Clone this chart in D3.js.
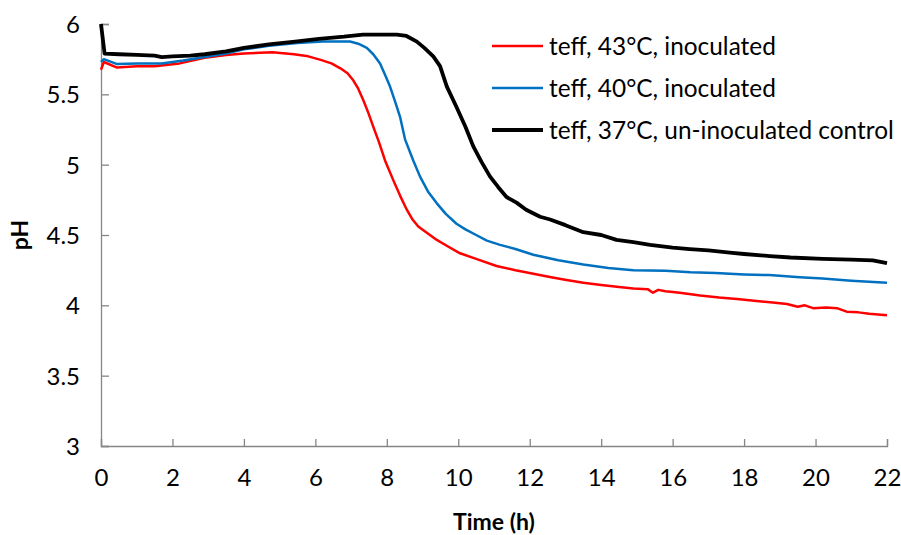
<!DOCTYPE html>
<html>
<head>
<meta charset="utf-8">
<script src="https://cdn.jsdelivr.net/npm/d3@7"></script>
<style>
  body { margin: 0; background: #fff; }
  svg { display: block; font-family: Lato, "Open Sans", sans-serif; }
</style>
</head>
<body>
<script>
// data
const seriesNames = ["teff, 43°C, inoculated", "teff, 40°C, inoculated", "teff, 37°C, un-inoculated control"];

const timeRed = [0, 0.08, 0.45, 1.0, 1.5, 2.2, 2.9, 3.5, 4.0, 4.8, 5.4, 5.8, 6.15, 6.45, 6.7, 6.9, 7.06, 7.2, 7.34, 7.48, 7.62, 7.78, 7.95, 8.18, 8.37, 8.56, 8.72, 8.88, 9.1, 9.4, 9.7, 10.05, 10.5, 11.07, 11.6, 12.1, 12.6, 13.03, 13.5, 14.0, 14.5, 14.9, 15.3, 15.45, 15.6, 15.8, 16.2, 16.77, 17.3, 17.8, 18.35, 18.8, 19.2, 19.5, 19.7, 19.93, 20.3, 20.6, 20.87, 21.2, 21.5, 22];
const phRed = [5.675, 5.73, 5.69, 5.70, 5.70, 5.72, 5.76, 5.78, 5.79, 5.80, 5.785, 5.77, 5.745, 5.72, 5.685, 5.65, 5.60, 5.54, 5.46, 5.37, 5.27, 5.16, 5.03, 4.89, 4.78, 4.68, 4.61, 4.56, 4.52, 4.465, 4.42, 4.37, 4.33, 4.28, 4.25, 4.225, 4.20, 4.18, 4.16, 4.145, 4.13, 4.12, 4.115, 4.09, 4.11, 4.10, 4.09, 4.07, 4.055, 4.045, 4.03, 4.02, 4.01, 3.99, 4.00, 3.98, 3.985, 3.98, 3.955, 3.95, 3.94, 3.93];

const timeBlue = [0, 0.08, 0.45, 1.0, 1.7, 2.3, 2.9, 3.5, 4.0, 4.7, 5.5, 6.2, 6.97, 7.2, 7.44, 7.62, 7.81, 7.95, 8.09, 8.23, 8.37, 8.51, 8.74, 8.93, 9.15, 9.4, 9.65, 9.95, 10.2, 10.5, 10.8, 11.17, 11.6, 12.1, 12.8, 13.5, 14.2, 14.9, 15.8, 16.5, 17.2, 18.0, 18.7, 19.56, 20.2, 21.0, 22];
const phBlue = [5.73, 5.75, 5.715, 5.72, 5.72, 5.74, 5.765, 5.79, 5.82, 5.845, 5.865, 5.875, 5.875, 5.86, 5.83, 5.785, 5.72, 5.64, 5.555, 5.45, 5.34, 5.18, 5.03, 4.915, 4.81, 4.725, 4.65, 4.58, 4.54, 4.50, 4.46, 4.43, 4.40, 4.36, 4.32, 4.29, 4.265, 4.25, 4.245, 4.235, 4.23, 4.22, 4.215, 4.20, 4.19, 4.175, 4.16];

const timeBlack = [0, 0.1, 0.5, 1.0, 1.5, 1.7, 2.0, 2.5, 2.9, 3.5, 4.0, 4.7, 5.43, 6.1, 6.8, 7.33, 7.8, 8.28, 8.55, 8.84, 9.05, 9.3, 9.49, 9.68, 9.95, 10.2, 10.42, 10.65, 10.89, 11.12, 11.35, 11.63, 11.9, 12.29, 12.57, 13.0, 13.5, 14.0, 14.43, 14.9, 15.37, 16.0, 16.48, 17.0, 17.6, 18.0, 18.72, 19.3, 20.2, 21.0, 21.6, 22];
const phBlack = [6.0, 5.79, 5.785, 5.78, 5.775, 5.765, 5.77, 5.775, 5.785, 5.805, 5.83, 5.855, 5.875, 5.895, 5.91, 5.925, 5.925, 5.925, 5.915, 5.875, 5.83, 5.77, 5.70, 5.555, 5.41, 5.27, 5.13, 5.02, 4.915, 4.84, 4.77, 4.73, 4.68, 4.63, 4.61, 4.57, 4.52, 4.50, 4.465, 4.45, 4.43, 4.41, 4.40, 4.39, 4.375, 4.365, 4.35, 4.34, 4.33, 4.325, 4.32, 4.30];

const xTicks = d3.range(0, 23, 2);
const yTicks = [3, 3.5, 4, 4.5, 5, 5.5, 6];

const series = [
  {name: seriesNames[0], t: timeRed, v: phRed, color: "#ff0000", width: 2.5},
  {name: seriesNames[1], t: timeBlue, v: phBlue, color: "#0070c0", width: 2.5},
  {name: seriesNames[2], t: timeBlack, v: phBlack, color: "#000000", width: 3.8}
];

const W = 901, H = 535;
const x = d3.scaleLinear().domain([0, 22]).range([101, 887]);
const y = d3.scaleLinear().domain([3, 6]).range([446, 24]);
const axisColor = "#868686";

const svg = d3.select("body").append("svg").attr("width", W).attr("height", H);

// axes: ticks point inward, like the original
const gx = svg.append("g").attr("transform", `translate(0,${y(3)})`)
  .call(d3.axisBottom(x).tickValues(xTicks).tickSize(-7).tickPadding(23).tickFormat(d3.format("d")));
const gy = svg.append("g").attr("transform", `translate(${x(0)},0)`)
  .call(d3.axisLeft(y).tickValues(yTicks).tickSize(-8).tickPadding(21).tickFormat(d => d));

[gx, gy].forEach(g => {
  g.select(".domain").attr("stroke", axisColor).attr("stroke-width", 1.3);
  g.selectAll(".tick line").attr("stroke", axisColor).attr("stroke-width", 1.3);
  g.selectAll(".tick text").attr("fill", "#000").style("font-size", "24px").style("font-family", "Lato, sans-serif");
});
gy.selectAll(".tick text").attr("dy", "0.35em");

// axis titles
svg.append("text").attr("x", 494).attr("y", 530).attr("text-anchor", "middle")
  .style("font-size", "23px").style("font-weight", "bold").text("Time (h)");
svg.append("text").attr("transform", `translate(28,235) rotate(-90)`).attr("text-anchor", "middle")
  .style("font-size", "23px").style("font-weight", "bold").text("pH");

const line = d3.line().x(d => x(d[0])).y(d => y(d[1]));

svg.append("g").selectAll("path")
  .data(series)
  .join("path")
    .attr("fill", "none")
    .attr("stroke", d => d.color)
    .attr("stroke-width", d => d.width)
    .attr("stroke-linejoin", "round")
    .attr("d", d => line(d.t.map((t, i) => [t, d.v[i]])));

// legend
const legend = svg.append("g").selectAll("g")
  .data(series)
  .join("g")
    .attr("transform", (d, i) => `translate(492,${46 + i * 42})`);
legend.append("line").attr("x1", 0).attr("x2", 51)
  .attr("stroke", d => d.color).attr("stroke-width", d => d.width);
legend.append("text").attr("x", 57).attr("dy", "0.35em")
  .style("font-size", "24.4px").text(d => d.name);
</script>
</body>
</html>
